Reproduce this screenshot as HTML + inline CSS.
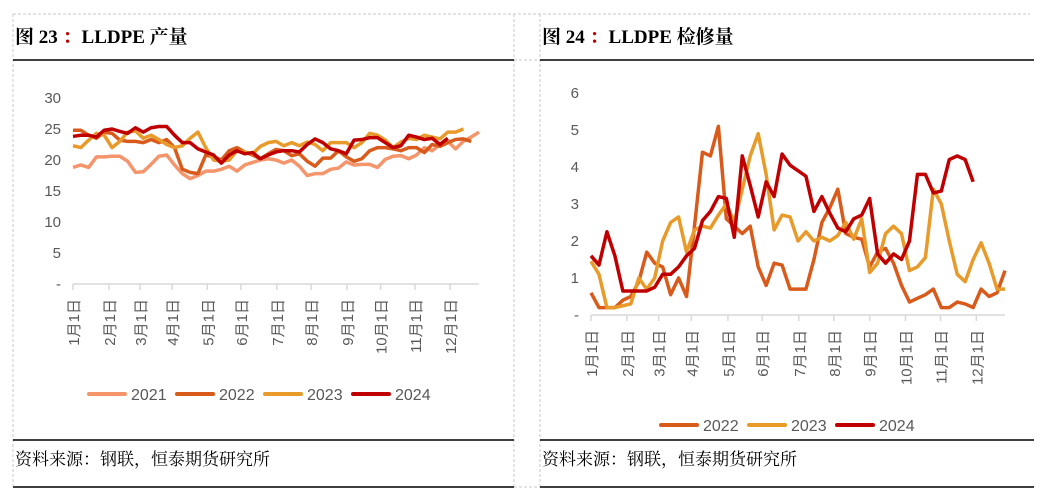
<!DOCTYPE html>
<html><head><meta charset="utf-8">
<style>
body{margin:0;background:#fff;width:1040px;height:493px;overflow:hidden;font-family:"Liberation Sans","Noto Sans CJK SC",sans-serif;}
svg{position:absolute;left:0;top:0}
</style></head>
<body>
<svg id="s" width="1040" height="493">
  <g fill="none" stroke="#c8c8c8" stroke-dasharray="3,2">
    <line x1="13" y1="14" x2="1030" y2="14"/>
    <line x1="13" y1="14" x2="13" y2="487"/>
    <line x1="514" y1="14" x2="514" y2="487"/>
    <line x1="540" y1="14" x2="540" y2="487"/>
    <line x1="514" y1="60" x2="540" y2="60"/>
    <line x1="514" y1="487" x2="540" y2="487"/>
  </g>
  <g stroke="#000" stroke-width="1.5">
    <line x1="13" y1="60" x2="514" y2="60"/><line x1="540" y1="60" x2="1034" y2="60"/>
    <line x1="13" y1="440" x2="514" y2="440"/><line x1="540" y1="440" x2="1034" y2="440"/>
    <line x1="13" y1="487" x2="514" y2="487"/><line x1="540" y1="487" x2="1034" y2="487"/>
  </g>
  <text x="15" y="43" font-family="Liberation Serif,'Noto Serif CJK SC',serif" font-weight="bold" font-size="19">图 23 <tspan fill="#c00000">：</tspan>LLDPE 产量</text>
  <text x="542" y="43" font-family="Liberation Serif,'Noto Serif CJK SC',serif" font-weight="bold" font-size="19">图 24 <tspan fill="#c00000">：</tspan>LLDPE 检修量</text>
  <text x="15" y="465" font-family="Liberation Serif,'Noto Serif CJK SC',serif" font-size="17">资料来源：钢联，恒泰期货研究所</text>
  <text x="542" y="465" font-family="Liberation Serif,'Noto Serif CJK SC',serif" font-size="17">资料来源：钢联，恒泰期货研究所</text>
  <g id="left"></g><g id="right"></g>
</svg>
<script>
const months=["1月1日","2月1日","3月1日","4月1日","5月1日","6月1日","7月1日","8月1日","9月1日","10月1日","11月1日","12月1日"];
const leftYTicks=["-","5","10","15","20","25","30"];
const rightYTicks=["-","1","2","3","4","5","6"];
const leftYears=["2021","2022","2023","2024"];
const rightYears=["2022","2023","2024"];
const prod2021=[18.8,19.2,18.8,20.5,20.5,20.6,20.6,19.8,18,18.1,19.3,20.6,20.8,19.2,17.8,17,17.5,18.2,18.2,18.5,19,18.2,19.2,19.6,20,20.2,20,19.5,20,19,17.5,17.8,17.8,18.5,18.7,19.7,19.2,19.3,19.3,18.8,20.1,20.6,20.7,20.2,20.8,22,21.5,22.5,23,21.8,23,23.7,24.5];
const prod2022=[24.8,24.8,24,23.5,24.5,24.3,23.2,23,23,22.8,23.3,22.8,23.3,22,18.5,18,17.8,20.8,20.5,20,21.5,22,21.3,20.8,20.2,21,21.7,21.5,20.7,21,19.8,19,20.3,20.3,21.5,20.5,19.8,20.2,21.5,22,22,21.8,21.5,22,22,21.2,22.5,22.2,22.8,23.3,23.4,23];
const prod2023=[22.3,22,23.2,24.3,24,22,23,24.5,24.7,23.5,24,23.3,22.5,22,22.3,23.5,24.5,22,20,19.8,20,21.5,21.3,21,22.2,22.8,23,22.3,22.8,22.3,22.9,22.5,21.5,22.8,22.8,22.8,22,22.8,24.3,24,23.2,22,22.9,23.5,23.3,24,23.7,23.4,24.5,24.5,25];
const prod2024=[23.8,24,24,23.7,24.8,25,24.6,24.3,25.2,24.5,25.2,25.4,25.4,24,22.8,22.8,21.8,21.3,20.8,19.5,20.8,21.5,21,21.2,20.2,20.8,21.3,21.5,21.5,21.3,22.5,23.4,22.8,21.8,21.5,21,23.2,23.3,23.6,23.6,22.8,22,22.3,24,23.7,23.3,23.5,22.5,23.5];
const maint2022=[0.6,0.2,0.2,0.2,0.4,0.5,0.9,1.7,1.4,1.3,0.55,1,0.5,2.4,4.4,4.3,5.1,2.6,2.4,2.2,2.4,1.3,0.8,1.4,1.35,0.7,0.7,0.7,1.5,2.5,2.9,3.4,2.2,2.1,2.05,1.3,1.7,1.8,1.4,0.8,0.35,0.45,0.55,0.7,0.2,0.2,0.35,0.3,0.2,0.7,0.5,0.6,1.2];
const maint2023=[1.45,1.1,0.2,0.2,0.25,0.3,1,0.7,1,2,2.5,2.65,1.7,2.3,2.4,2.35,2.7,3,2.5,3.4,4.3,4.9,3.8,2.3,2.7,2.65,2,2.25,2,2.1,2,2.15,2.5,2.05,2.6,1.15,1.4,2.2,2.4,2.2,1.2,1.3,1.55,3.4,3,2,1.1,0.9,1.5,1.95,1.4,0.7,0.7];
const maint2024=[1.6,1.35,2.25,1.6,0.65,0.65,0.65,0.65,0.75,1.1,1.1,1.3,1.6,1.8,2.55,2.8,3.2,3.15,2.1,4.3,3.5,2.65,3.6,3.2,4.35,4.05,3.9,3.75,2.8,3.2,2.75,2.35,2.25,2.6,2.7,3.15,1.65,1.4,1.65,1.5,2,3.8,3.8,3.3,3.35,4.2,4.3,4.2,3.6];
const colors={"2021":"#F4956B","2022":"#D95B1C","2023":"#E89A2A","2024":"#C00000"};
const NS="http://www.w3.org/2000/svg";
function mk(tag,attrs,parent){const e=document.createElementNS(NS,tag);for(const k in attrs)e.setAttribute(k,attrs[k]);parent.appendChild(e);return e;}
function chart(g,cfg){
  const x=i=>cfg.x0+(cfg.x1-cfg.x0)*i/52;
  const y=v=>cfg.y0-(cfg.y0-cfg.yTop)*v/cfg.max;
  cfg.yTicks.forEach((t,i)=>{
    const tx=mk('text',{x:cfg.x0-12,y:y(i*cfg.max/(cfg.yTicks.length-1))+5,'text-anchor':'end','font-size':'15',fill:'#595959'},g);
    
    
    tx.textContent=t;
  });
  const ax=mk('line',{x1:cfg.x0,y1:cfg.y0,x2:cfg.x1,y2:cfg.y0,stroke:'#d9d9d9','stroke-width':1.5},g);
  
  
  months.forEach((m,i)=>{
    const tx0=x(cfg.ticks[i]);
    const tk=mk('line',{x1:tx0,y1:cfg.y0,x2:tx0,y2:cfg.y0+6,stroke:'#d9d9d9','stroke-width':1.5},g);
    
    
    const t=mk('text',{transform:`translate(${tx0+6},${cfg.y0+15}) rotate(-90)`,'text-anchor':'end','font-size':'15',fill:'#595959'},g);
    
    
    t.textContent=m;
  });
  cfg.series.forEach(s=>{
    const p=mk('polyline',{points:s.data.map((v,i)=>x(i)+','+y(v)).join(' '),fill:'none',stroke:colors[s.name],'stroke-width':3.5,'stroke-linejoin':'round'},g);
    
    
  });
  let lx=cfg.legX;
  cfg.series.forEach(s=>{
    const l=mk('line',{x1:lx,y1:cfg.legY,x2:lx+36,y2:cfg.legY,stroke:colors[s.name],'stroke-width':4,'stroke-linecap':'round'},g);
    
    
    const t=mk('text',{x:lx+42,y:cfg.legY+6,'font-size':'16',fill:'#595959'},g);
    
    
    t.textContent=s.name;
    lx+=cfg.legStep;
  });
}
chart(document.getElementById('left'),{x0:73,x1:479,y0:284,yTop:98,max:30,yTicks:leftYTicks,
  ticks:[0,4.6,8.6,12.7,17.2,21.5,26.1,30.5,35.1,39.4,43.8,48.3],
  series:[{name:"2021",data:prod2021},{name:"2022",data:prod2022},{name:"2023",data:prod2023},{name:"2024",data:prod2024}],
  legX:89,legY:394,legStep:88});
chart(document.getElementById('right'),{x0:591,x1:1005,y0:315,yTop:93,max:6,yTicks:rightYTicks,
  ticks:[0,4.5,8.5,12.6,17.2,21.5,26.1,30.5,35,39.5,43.9,48.4],
  series:[{name:"2022",data:maint2022},{name:"2023",data:maint2023},{name:"2024",data:maint2024}],
  legX:661,legY:425,legStep:88});
</script>
</body></html>
